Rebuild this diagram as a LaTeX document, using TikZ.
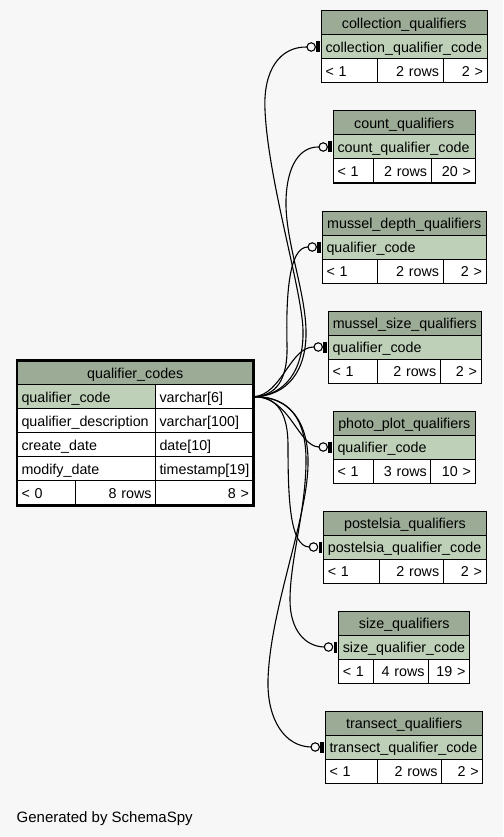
\documentclass[tikz,border=0pt]{standalone}
\usepackage{fontspec}
\setmainfont{Liberation Sans}
\usetikzlibrary{calc}
\definecolor{bg}{HTML}{F7F7F7}
\definecolor{hdr}{HTML}{9BAB96}
\definecolor{keyc}{HTML}{BED1B8}
\tikzset{
  cellbox/.style={draw=black, line width=1pt, minimum height=24pt, inner xsep=4pt, inner ysep=0pt,
    text height=12.6pt, text depth=1.4pt, anchor=north west, font=\fontsize{14.3}{17}\selectfont},
  conn/.style={draw=black, line width=1.1pt},
  thickframe/.style={draw=black, line width=2.8pt},
  footertext/.style={anchor=base west, inner sep=0pt, font=\fontsize{15}{18}\selectfont},
}
\newcommand\tcell[7]{%
  \pgfmathsetmacro\qqcw{#4-8}%
  \node[cellbox, fill=#5, text width=\qqcw pt, align=#6] (#1) at (#2,#3) {#7};}
\newcommand\childtab[8]{%
  \pgfmathsetmacro\qqw{#4-#2}%
  \pgfmathsetmacro\qqk{#3+24}%
  \tcell{#1-h}{#2}{#3}{\qqw}{hdr}{center}{#7}
  \tcell{#1-k}{#2}{\qqk}{\qqw}{keyc}{left}{#8}
  \coordinate (#1-e) at ($(#1-k.west)+(-14,0)$);
  \fill ($(#1-k.west)+(-4.8,-5.5)$) rectangle ($(#1-k.west)+(-1.5,5.5)$);
  \draw[line width=1.1pt, fill=bg] ($(#1-k.west)+(-9.8,0)$) circle[radius=4.2pt];
}
\newcommand\childstats[9]{%
  \pgfmathsetmacro\qqy{#3+48}%
  \pgfmathsetmacro\qqa{#5-#2}\pgfmathsetmacro\qqb{#6-#5}\pgfmathsetmacro\qqc{#4-#6}%
  \tcell{#1-s1}{#2}{\qqy}{\qqa}{white}{left}{#7}
  \tcell{#1-s2}{#5}{\qqy}{\qqb}{white}{right}{#8}
  \tcell{#1-s3}{#6}{\qqy}{\qqc}{white}{right}{#9}
}
\begin{document}
\begin{tikzpicture}[x=1pt,y=-1pt]
\fill[bg] (0,0) rectangle (503,837);
\useasboundingbox (0,0) rectangle (503,837);

% main table
\tcell{qc-h}{17}{360.3}{235.5}{hdr}{center}{qualifier\_codes}
\tcell{qc-k1}{17}{384.3}{138}{keyc}{left}{qualifier\_code}
\tcell{qc-k2}{155}{384.3}{97.5}{white}{left}{varchar[6]}
\tcell{qc-a1}{17}{408.3}{138}{white}{left}{qualifier\_description}
\tcell{qc-a2}{155}{408.3}{97.5}{white}{left}{varchar[100]}
\tcell{qc-b1}{17}{432.3}{138}{white}{left}{create\_date}
\tcell{qc-b2}{155}{432.3}{97.5}{white}{left}{date[10]}
\tcell{qc-c1}{17}{456.3}{138}{white}{left}{modify\_date}
\tcell{qc-c2}{155}{456.3}{97.5}{white}{left}{timestamp[19]}
\tcell{qc-s1}{17}{480.3}{58}{white}{left}{< 0}
\tcell{qc-s2}{75}{480.3}{80}{white}{right}{8 rows}
\tcell{qc-s3}{155}{480.3}{97.5}{white}{right}{8 >}
\draw[thickframe] (qc-h.north west) rectangle (qc-s3.south east);

% child tables
\childtab{coll}{321}{10.5}{486.5}{377}{442.5}{collection\_qualifiers}{collection\_qualifier\_code}
\childstats{coll}{321}{10.5}{486.5}{377}{442.5}{< 1}{2 rows}{2 >}
\childtab{cnt}{333}{110.5}{474.5}{373.3}{430.5}{count\_qualifiers}{count\_qualifier\_code}
\childstats{cnt}{333}{110.5}{474.5}{373.3}{430.5}{< 1}{2 rows}{20 >}
\childtab{md}{322}{210.5}{485.5}{377.3}{442.5}{mussel\_depth\_qualifiers}{qualifier\_code}
\childstats{md}{322}{210.5}{485.5}{377.3}{442.5}{< 1}{2 rows}{2 >}
\childtab{ms}{328}{310.5}{480.5}{377}{439.7}{mussel\_size\_qualifiers}{qualifier\_code}
\childstats{ms}{328}{310.5}{480.5}{377}{439.7}{< 1}{2 rows}{2 >}
\childtab{pp}{333}{410.5}{474.5}{373.3}{430.3}{photo\_plot\_qualifiers}{qualifier\_code}
\childstats{pp}{333}{410.5}{474.5}{373.3}{430.3}{< 1}{3 rows}{10 >}
\childtab{pq}{323.3}{510.5}{485.5}{378.7}{442.7}{postelsia\_qualifiers}{postelsia\_qualifier\_code}
\childstats{pq}{323.3}{510.5}{485.5}{378.7}{442.7}{< 1}{2 rows}{2 >}
\childtab{sq}{338.3}{610.5}{469}{373.3}{428}{size\_qualifiers}{size\_qualifier\_code}
\childstats{sq}{338.3}{610.5}{469}{373.3}{428}{< 1}{4 rows}{19 >}
\childtab{tq}{325}{710.5}{482.3}{377}{441}{transect\_qualifiers}{transect\_qualifier\_code}
\childstats{tq}{325}{710.5}{482.3}{377}{441}{< 1}{2 rows}{2 >}

% connectors
\draw[conn] (qc-k2.east) .. controls (285,396) and (304,370) .. (303,330)
  .. controls (302,290) and (268,180) .. (265,110)
  .. controls (263,70) and (280,46.5) .. (coll-e);
\draw[conn] (qc-k2.east) .. controls (288,396) and (307,370) .. (306,330)
  .. controls (305,290) and (285,240) .. (286,200)
  .. controls (287,165) and (300,146.5) .. (cnt-e);
\draw[conn] (qc-k2.east) .. controls (276,396) and (288,380) .. (287,345)
  .. controls (286,300) and (288,246.5) .. (md-e);
\draw[conn] (qc-k2.east) .. controls (282,395) and (290,346.5) .. (ms-e);
\draw[conn] (qc-k2.east) .. controls (290,396) and (298,446.5) .. (pp-e);
\draw[conn] (qc-k2.east) .. controls (278,396) and (288,415) .. (288,445)
  .. controls (288,500) and (290,546.5) .. (pq-e);
\draw[conn] (qc-k2.east) .. controls (290,396) and (306,420) .. (306,460)
  .. controls (306,510) and (290,560) .. (290,600)
  .. controls (290,630) and (305,646.5) .. (sq-e);
\draw[conn] (qc-k2.east) .. controls (292,396) and (309,425) .. (308,465)
  .. controls (307,520) and (270,610) .. (268,680)
  .. controls (267,720) and (285,746.5) .. (tq-e);

\node[footertext] (footer) at (16.5,822.7) {Generated by SchemaSpy};
\end{tikzpicture}
\end{document}
